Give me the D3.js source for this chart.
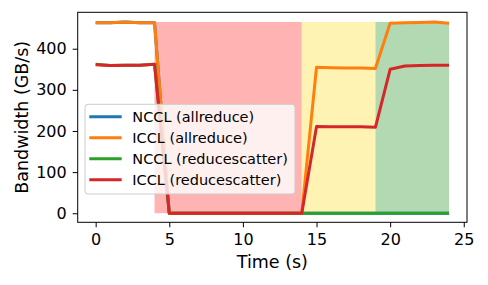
<!DOCTYPE html>
<html>
<head>
<meta charset="utf-8">
<script src="https://cdn.jsdelivr.net/npm/d3@7"></script>
<style>
  body { margin: 0; background: #fff; }
  svg text { font-family: "DejaVu Sans", sans-serif; fill: #000; }
</style>
</head>
<body>
<svg id="chart"></svg>
<script>
// time in seconds
var times = [0,1,2,3,4,5,6,7,8,9,10,11,12,13,14,15,16,17,18,19,20,21,22,23,24];

var ncclAllreduce  = [463,463,465,463,463,0,0,0,0,0,0,0,0,0,0,0,0,0,0,0,0,0,0,0,0];
var icclAllreduce  = [463,463,465,463,463,0,0,0,0,0,0,0,0,0,0,355,354,353,353,352,462,463,464,465,462];
var ncclReduceScat = [362,359,360,360,362,0,0,0,0,0,0,0,0,0,0,0,0,0,0,0,0,0,0,0,0];
var icclReduceScat = [361,359,360,360,362,0,0,0,0,0,0,0,0,0,0,211,210,210,210,209,350,358,359,360,360];

var seriesNames  = ["NCCL (allreduce)", "ICCL (allreduce)", "NCCL (reducescatter)", "ICCL (reducescatter)"];
var seriesColors = ["#1f77b4", "#ff7f0e", "#2ca02c", "#d62728"];

// shaded phases
var spanStart  = [4, 14, 19];
var spanEnd    = [14, 19, 24];
var spanTop    = 465;
var spanColors = ["#ffb3b3", "#fff3b3", "#b3d9b3"];

var xTicks = [0, 5, 10, 15, 20, 25];
var yTicks = [0, 100, 200, 300, 400];

var screen = { width: 488, height: 285 };
var margins = { top: 12.3, bottom: 62.7, left: 77.7, right: 21 };

var width = screen.width - margins.left - margins.right;
var height = screen.height - margins.top - margins.bottom;

var xScale = d3.scaleLinear()
               .domain([-1.22, 25.22])
               .range([0, width]);

var yScale = d3.scaleLinear()
               .domain([-22, 488.5])
               .range([height, 0]);

var svg = d3.select("#chart")
            .attr("width", screen.width)
            .attr("height", screen.height);

var plot = svg.append("g")
              .attr("transform", "translate(" + margins.left + "," + margins.top + ")");

// phase spans
plot.selectAll("rect.span")
    .data(spanStart)
    .enter()
    .append("rect")
    .classed("span", true)
    .attr("x", function(d){ return xScale(d); })
    .attr("width", function(d, i){ return xScale(spanEnd[i]) - xScale(d); })
    .attr("y", yScale(spanTop))
    .attr("height", yScale(0) - yScale(spanTop))
    .attr("fill", function(d, i){ return spanColors[i]; });

var allSeries = [ncclAllreduce, icclAllreduce, ncclReduceScat, icclReduceScat];

var line = d3.line()
             .x(function(d, i){ return xScale(times[i]); })
             .y(function(d){ return yScale(d); });

plot.selectAll("path.series")
    .data(allSeries)
    .enter()
    .append("path")
    .classed("series", true)
    .attr("d", line)
    .attr("fill", "none")
    .attr("stroke", function(d, i){ return seriesColors[i]; })
    .attr("stroke-width", 3)
    .attr("stroke-linejoin", "round");

// axes
var xAxis = d3.axisBottom(xScale).tickValues(xTicks).tickSize(5).tickPadding(6);
var yAxis = d3.axisLeft(yScale).tickValues(yTicks).tickSize(5).tickPadding(6);

var gx = plot.append("g")
             .attr("transform", "translate(0," + height + ")")
             .call(xAxis);
var gy = plot.append("g").call(yAxis);

[gx, gy].forEach(function(g){
  g.select(".domain").remove();
  g.selectAll("text").style("font-size", "16px").attr("fill", "#000");
  g.selectAll("line").attr("stroke", "#000").attr("stroke-width", 1);
});

plot.append("rect")
    .attr("x", 0).attr("y", 0)
    .attr("width", width).attr("height", height)
    .attr("fill", "none")
    .attr("stroke", "#000")
    .attr("stroke-width", 1);

svg.append("text")
   .attr("x", margins.left + width / 2)
   .attr("y", 268)
   .attr("text-anchor", "middle")
   .style("font-size", "17.5px")
   .text("Time (s)");

svg.append("text")
   .attr("transform", "translate(27.5," + (margins.top + height / 2) + ") rotate(-90)")
   .attr("text-anchor", "middle")
   .style("font-size", "17.5px")
   .text("Bandwidth (GB/s)");

// legend
var legend = svg.append("g").attr("transform", "translate(85,104.3)");

legend.append("rect")
      .attr("width", 210)
      .attr("height", 89.7)
      .attr("rx", 3)
      .attr("fill", "#fff")
      .attr("fill-opacity", 0.8)
      .attr("stroke", "#ccc")
      .attr("stroke-width", 1);

var rows = legend.selectAll("g.row")
                 .data(seriesNames)
                 .enter()
                 .append("g")
                 .classed("row", true)
                 .attr("transform", function(d, i){ return "translate(0," + (12.4 + i * 21) + ")"; });

rows.append("line")
    .attr("x1", 4.3).attr("x2", 36.7)
    .attr("y1", 0).attr("y2", 0)
    .attr("stroke", function(d, i){ return seriesColors[i]; })
    .attr("stroke-width", 3);

rows.append("text")
    .attr("x", 47.3)
    .attr("dy", "0.35em")
    .style("font-size", "14.5px")
    .text(function(d){ return d; });
</script>
</body>
</html>
